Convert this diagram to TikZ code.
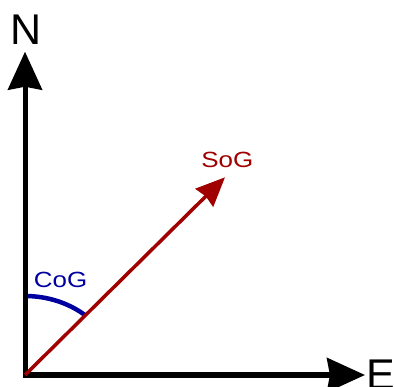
\documentclass[tikz,border=0pt]{standalone}
\usepackage{fontspec}
\newfontfamily\axisfont{Liberation Sans}
\newfontfamily\anglefont[FakeStretch=1.18]{Liberation Sans}
\usetikzlibrary{arrows.meta}
\definecolor{sogred}{RGB}{160,0,0}
\definecolor{cogblue}{RGB}{0,0,160}

\begin{document}
\begin{tikzpicture}[x=1bp, y=1bp,
  axis/.style={line width=5bp, line join=miter,
               {Stealth[length=38bp, width=34bp, inset=3bp]}-{Stealth[length=38bp, width=34bp, inset=3bp]}},
  vec/.style={line width=3.5bp, color=sogred, -{Stealth[length=29bp, width=25bp, inset=2bp]}},
  arcline/.style={line width=4.5bp, draw=cogblue},
  dirlabel/.style={inner sep=0pt, font=\axisfont\fontsize{43bp}{43bp}\selectfont},
  anglabel/.style={inner sep=0pt, font=\anglefont\fontsize{22bp}{22bp}\selectfont}
]
\useasboundingbox (0,0) rectangle (395,387);

\coordinate (O)    at (25,12);
\coordinate (Ntip) at (25,335.3);
\coordinate (Etip) at (365,12);
\coordinate (Stip) at (225,209.7);
\coordinate (arcstart) at (25,91);

% course over ground arc
\draw[arcline] (arcstart) arc[start angle=90, end angle=49.3, x radius=92, y radius=79];

% axes
\draw[axis] (Ntip) -- (O) -- (Etip);

% speed over ground
\draw[vec] (O) -- (Stip);

\node[dirlabel, anchor=base]      (north) at (26,342.7)  {N};
\node[dirlabel, anchor=base west] (east)  at (366.6,-2.8) {E};
\node[anglabel, anchor=base west, text=sogred]  (sog) at (201.1,219.2) {SoG};
\node[anglabel, anchor=base west, text=cogblue] (cog) at (33.7,99.3)   {CoG};
\end{tikzpicture}
\end{document}
